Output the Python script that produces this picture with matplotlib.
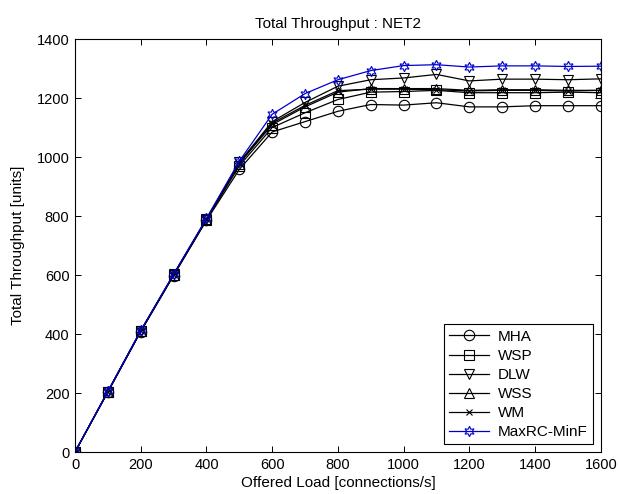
import matplotlib
matplotlib.use("Agg")
import matplotlib.pyplot as plt

plt.rcParams['font.family'] = ['Liberation Sans', 'DejaVu Sans']

load = [0, 100, 200, 300, 400, 500, 600, 700, 800, 900, 1000, 1100, 1200, 1300, 1400, 1500, 1600]

mha = [0, 203, 408, 598, 785, 958, 1085, 1120, 1155, 1178, 1176, 1184, 1170, 1170, 1174, 1174, 1174]
wsp = [0, 204, 410, 600, 788, 970, 1100, 1150, 1195, 1220, 1222, 1226, 1218, 1218, 1218, 1220, 1218]
dlw = [0, 205, 411, 602, 790, 982, 1120, 1185, 1240, 1262, 1268, 1280, 1258, 1264, 1264, 1262, 1265]
wss = [0, 205, 410, 601, 789, 978, 1110, 1170, 1220, 1232, 1232, 1232, 1226, 1228, 1228, 1226, 1226]
wm = [0, 205, 410, 601, 789, 980, 1115, 1175, 1225, 1230, 1230, 1228, 1224, 1226, 1226, 1224, 1226]
maxrc = [0, 206, 412, 603, 792, 986, 1145, 1215, 1262, 1293, 1310, 1313, 1305, 1309, 1309, 1307, 1308]

series = [
    ("MHA", mha, "o", "k"),
    ("WSP", wsp, "s", "k"),
    ("DLW", dlw, "v", "k"),
    ("WSS", wss, "^", "k"),
    ("WM", wm, "x", "k"),
    ("MaxRC-MinF", maxrc, (6, 1, 0), "#0000cc"),
]

fig = plt.figure(figsize=(6.2, 4.94), dpi=100)
ax = fig.add_axes([0.121, 0.085, 0.848, 0.836])

for name, vals, mk, col in series:
    ms = 4.5 if mk == "x" else 7.5
    ax.plot(load, vals, color=col, marker=mk, markersize=ms, markerfacecolor="none",
            markeredgecolor=col, linewidth=0.9, markeredgewidth=0.8, label=name)

ax.set_xlim(0, 1600)
ax.set_ylim(0, 1400)
ax.set_xticks(range(0, 1601, 200))
ax.set_yticks(range(0, 1401, 200))
ax.tick_params(direction="in", top=True, right=True, labelsize=10.5, length=4, width=0.7, pad=4)
for sp in ax.spines.values():
    sp.set_linewidth(0.8)

ax.set_title("Total Throughput : NET2", fontsize=11, pad=8)
ax.set_xlabel("Offered Load [connections/s]", fontsize=11, labelpad=3)
ax.set_ylabel("Total Throughput [units]", fontsize=11, labelpad=8)

leg = ax.legend(loc="lower right", fontsize=11, fancybox=False, framealpha=1,
                edgecolor="black", borderaxespad=0.5, handlelength=2.6,
                labelspacing=0.33, borderpad=0.35, handletextpad=0.6)
leg.get_frame().set_linewidth(0.8)

fig.savefig("out.png", dpi=100)
